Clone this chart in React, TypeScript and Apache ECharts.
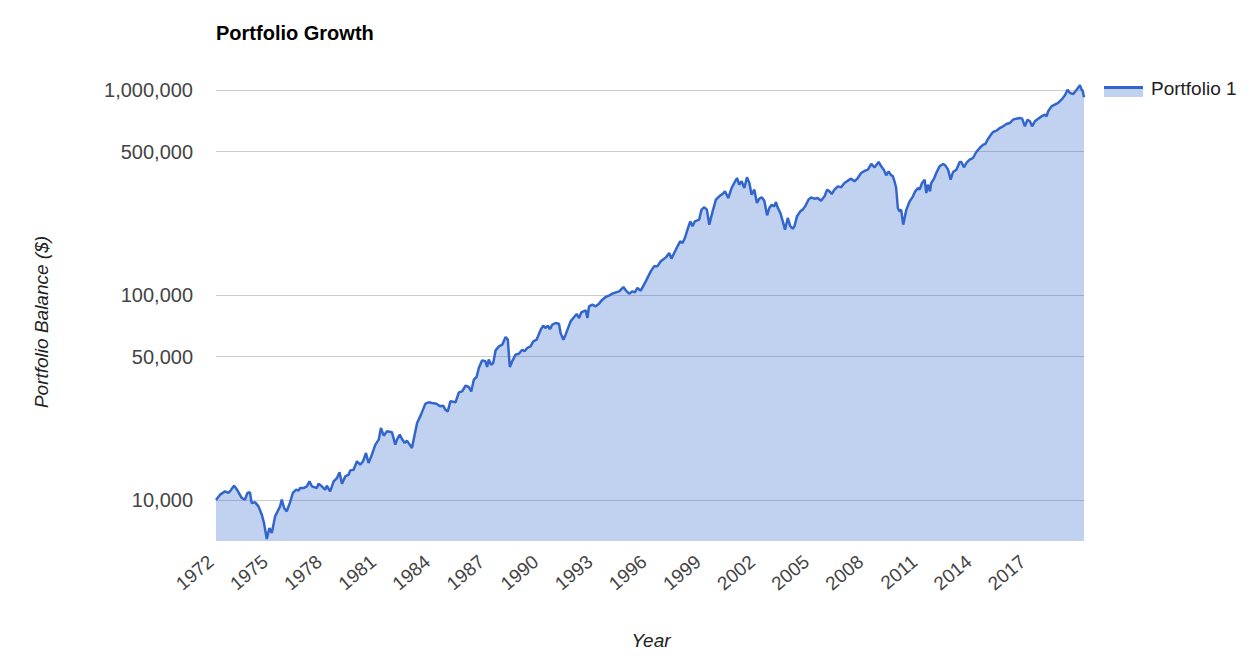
import React, { useEffect, useRef } from "react";
import * as echarts from "echarts";

// [year, balance in $], 1972–1994
const growth1972to1994: [number, number][] = [
  [1972.0, 10000], [1972.22, 10620], [1972.49, 11020], [1972.67, 10820], [1972.8, 11150],
  [1972.98, 11750], [1973.16, 11150], [1973.39, 10230], [1973.57, 10040], [1973.7, 10820],
  [1973.84, 10900], [1973.93, 9670], [1974.12, 9740], [1974.3, 9310], [1974.48, 8480],
  [1974.6, 7720], [1974.75, 6450], [1974.89, 7300], [1975.02, 6900], [1975.2, 8320],
  [1975.47, 9310], [1975.56, 10040], [1975.69, 9140], [1975.83, 8800], [1976.01, 9740],
  [1976.16, 10820], [1976.34, 11230], [1976.47, 11100], [1976.56, 11440], [1976.74, 11440],
  [1976.92, 11660], [1977.06, 12330], [1977.19, 11660], [1977.46, 11440], [1977.55, 12010],
  [1977.73, 11660], [1977.91, 11230], [1978.0, 11750], [1978.18, 11020], [1978.37, 12330],
  [1978.55, 12800], [1978.69, 13650], [1978.82, 12010], [1979.0, 13040], [1979.18, 13290],
  [1979.27, 13950], [1979.45, 14060], [1979.63, 15440], [1979.81, 14870], [1979.96, 15440],
  [1980.12, 16960], [1980.26, 15150], [1980.44, 16640], [1980.63, 18620], [1980.81, 19690],
  [1980.93, 22450], [1981.08, 20600], [1981.26, 21630], [1981.53, 21380], [1981.71, 18620],
  [1981.8, 19690], [1981.95, 20830], [1982.07, 19840], [1982.22, 18970], [1982.34, 19470],
  [1982.49, 18620], [1982.61, 17930], [1982.74, 20450], [1982.89, 23750], [1983.1, 26090],
  [1983.34, 29510], [1983.52, 29950], [1983.7, 29730], [1983.94, 29510], [1984.12, 28640],
  [1984.3, 28850], [1984.42, 27580], [1984.55, 27060], [1984.69, 30290], [1984.97, 29950],
  [1985.15, 33510], [1985.33, 33880], [1985.51, 36120], [1985.69, 35580], [1985.82, 33880],
  [1985.96, 38640], [1986.11, 39810], [1986.23, 44050], [1986.41, 48010], [1986.59, 47480],
  [1986.68, 44550], [1986.77, 48380], [1986.9, 45710], [1987.01, 46590], [1987.14, 53700],
  [1987.32, 56180], [1987.5, 57240], [1987.68, 62400], [1987.8, 60550], [1987.91, 44550],
  [1988.04, 47480], [1988.22, 51170], [1988.4, 51730], [1988.58, 54110], [1988.71, 53110],
  [1988.85, 55140], [1989.03, 56180], [1989.18, 59430], [1989.36, 60550], [1989.58, 67740],
  [1989.72, 70860], [1989.85, 69020], [1989.97, 70860], [1990.08, 68240], [1990.21, 71660],
  [1990.39, 73010], [1990.57, 72470], [1990.66, 65250], [1990.81, 60550], [1990.93, 64040],
  [1991.2, 74380], [1991.39, 78100], [1991.53, 80780], [1991.66, 77220], [1991.78, 82300],
  [1992.02, 84180], [1992.11, 77220], [1992.2, 88050], [1992.38, 89710], [1992.56, 88050],
  [1992.74, 90730], [1992.92, 94890], [1993.1, 97770], [1993.28, 99250], [1993.46, 101500],
  [1993.65, 103000], [1993.83, 104200], [1994.06, 109400], [1994.19, 105400], [1994.37, 101500],
  [1994.55, 104200], [1994.68, 103000], [1994.82, 108200],
];

// [year, balance in $], 1995–2018
const growth1995to2018: [number, number][] = [
  [1995.0, 105000], [1995.27, 116600], [1995.54, 130400], [1995.72, 138000], [1995.9, 138000],
  [1996.08, 146000], [1996.36, 152600], [1996.54, 160300], [1996.66, 150400], [1996.81, 160300],
  [1996.99, 172800], [1997.13, 182700], [1997.26, 179300], [1997.39, 189700], [1997.53, 208300],
  [1997.68, 228800], [1997.8, 216300], [1997.93, 228800], [1998.16, 233100], [1998.29, 260900],
  [1998.44, 267700], [1998.58, 260900], [1998.71, 220300], [1998.89, 255900], [1999.07, 291700],
  [1999.25, 302900], [1999.43, 310900], [1999.56, 320300], [1999.74, 297300], [1999.92, 332700],
  [2000.06, 351800], [2000.21, 372100], [2000.33, 345300], [2000.46, 358500], [2000.61, 332700],
  [2000.75, 375000], [2000.88, 351800], [2001.0, 308600], [2001.15, 326400], [2001.29, 281100],
  [2001.42, 295100], [2001.55, 299500], [2001.69, 288500], [2001.84, 244700], [2001.96, 265700],
  [2002.09, 275800], [2002.23, 270600], [2002.32, 284200], [2002.41, 267700], [2002.56, 251200],
  [2002.69, 228800], [2002.81, 208300], [2002.96, 237500], [2003.1, 216300], [2003.23, 210600],
  [2003.32, 216300], [2003.46, 242000], [2003.64, 255900], [2003.77, 260900], [2003.9, 270600],
  [2004.08, 291700], [2004.22, 299500], [2004.4, 295100], [2004.58, 297300], [2004.76, 288500],
  [2004.95, 302900], [2005.09, 326400], [2005.22, 320300], [2005.34, 310900], [2005.49, 326400],
  [2005.67, 338800], [2005.85, 335100], [2006.03, 351800], [2006.21, 361200], [2006.39, 369400],
  [2006.57, 358500], [2006.75, 372100], [2006.93, 393700], [2007.15, 404200], [2007.3, 408700],
  [2007.48, 435500], [2007.66, 419600], [2007.88, 445500], [2008.02, 424300], [2008.16, 408700],
  [2008.29, 383500], [2008.42, 401100], [2008.53, 386400], [2008.65, 379300], [2008.74, 358500],
  [2008.83, 332700], [2008.92, 265700], [2009.01, 255900], [2009.1, 260900], [2009.21, 220300],
  [2009.38, 260900], [2009.56, 286400], [2009.74, 302900], [2009.86, 320300], [2010.01, 332700],
  [2010.1, 326400], [2010.23, 351800], [2010.37, 365200], [2010.46, 314500], [2010.55, 345300],
  [2010.66, 320300], [2010.73, 351800], [2010.88, 369400], [2011.0, 393700], [2011.18, 424300],
  [2011.37, 435500], [2011.49, 429100], [2011.64, 408700], [2011.78, 365200], [2011.91, 398100],
  [2012.09, 408700], [2012.27, 445500], [2012.36, 445500], [2012.5, 419600], [2012.63, 440500],
  [2012.81, 457400], [2012.99, 465900], [2013.17, 498400], [2013.35, 521300], [2013.54, 541100],
  [2013.66, 545200], [2013.81, 578900], [2013.99, 610100], [2014.08, 624000], [2014.26, 633300],
  [2014.44, 652500], [2014.62, 665000], [2014.8, 682400], [2014.98, 690200], [2015.16, 716600],
  [2015.34, 724700], [2015.52, 730100], [2015.65, 724700], [2015.8, 665000], [2015.94, 716600],
  [2016.07, 703400], [2016.19, 665000], [2016.34, 703400], [2016.52, 724700], [2016.7, 743800],
  [2016.88, 758400], [2016.97, 743800], [2017.06, 787300], [2017.24, 832500], [2017.42, 848300],
  [2017.6, 864300], [2017.78, 897100], [2017.97, 941900], [2018.11, 1003700], [2018.24, 966900],
  [2018.42, 956100], [2018.6, 1003700], [2018.78, 1054000], [2018.87, 1003700], [2018.93, 990000],
  [2019.0, 921000],
];

const yTickValues = [10000, 50000, 100000, 500000, 1000000];
const xLabelYears = [1972, 1975, 1978, 1981, 1984, 1987, 1990, 1993, 1996, 1999, 2002, 2005, 2008, 2011, 2014, 2017];
const seriesName = "Portfolio 1";
const chartTitle = "Portfolio Growth";
const yAxisTitle = "Portfolio Balance ($)";
const xAxisTitle = "Year";

const FONT = '"Liberation Sans", Arial, sans-serif';

export default function App() {
  const ref = useRef<HTMLDivElement>(null);

  useEffect(() => {
    if (!ref.current) return;
    const chart = echarts.init(ref.current, null, { renderer: "svg" });
    const points = [...growth1972to1994, ...growth1995to2018].map(([t, v]) => [t, Math.log10(v)]);
    const logTicks = yTickValues.map((v) => Math.log10(v));
    const firstLabelYear = xLabelYears[0];
    const labelStep = xLabelYears[1] - xLabelYears[0];
    const lastLabelYear = xLabelYears[xLabelYears.length - 1];

    chart.setOption({
      animation: false,
      title: {
        text: chartTitle,
        left: 216,
        top: 23,
        padding: 0,
        textStyle: { fontFamily: FONT, fontSize: 20, fontWeight: "bold", color: "#000" },
      },
      grid: [
        { left: 216, right: 172, top: 69.5, bottom: 130 },
        { left: 211, width: 830, top: 69.5, bottom: 130 },
      ],
      xAxis: [
        {
          type: "value",
          gridIndex: 0,
          min: xLabelYears[0],
          max: "dataMax",
          show: false,
        },
        {
          type: "value",
          gridIndex: 1,
          min: 0,
          max: 46,
          interval: labelStep,
          axisLine: { show: false },
          axisTick: { show: false },
          splitLine: { show: false },
          axisLabel: {
            rotate: 40,
            margin: 18,
            fontSize: 19,
            fontFamily: FONT,
            color: "#444",
            formatter: (v: number) => {
              const y = firstLabelYear + v;
              return y <= lastLabelYear ? String(y) : "";
            },
          },
        },
      ],
      yAxis: [
        {
          type: "value",
          gridIndex: 0,
          min: 3.8,
          max: 6.1,
          axisLine: { show: false },
          axisTick: { show: false, customValues: logTicks },
          axisLabel: {
            customValues: logTicks,
            margin: 23,
            fontSize: 20,
            fontFamily: FONT,
            color: "#444",
            formatter: (v: number) => Math.round(Math.pow(10, v)).toLocaleString("en-US"),
          },
          splitLine: { show: true, lineStyle: { color: "#cccccc", width: 1 } },
        },
        { type: "value", gridIndex: 1, min: 0, max: 1, show: false },
      ],
      series: [
        {
          type: "line",
          name: seriesName,
          xAxisIndex: 0,
          yAxisIndex: 0,
          data: points,
          symbol: "none",
          showSymbol: false,
          lineStyle: { color: "#3366cc", width: 2.5 },
          itemStyle: { color: "#3366cc" },
          areaStyle: { color: "#3366cc", opacity: 0.3, origin: "start" },
        },
      ],
      graphic: [
        {
          type: "text",
          x: 41,
          y: 322,
          rotation: Math.PI / 2,
          style: {
            text: yAxisTitle,
            font: `italic 19px ${FONT}`,
            fill: "#222",
            align: "center",
            verticalAlign: "middle",
          },
        },
        {
          type: "text",
          x: 651,
          y: 640,
          style: {
            text: xAxisTitle,
            font: `italic 19px ${FONT}`,
            fill: "#222",
            align: "center",
            verticalAlign: "middle",
          },
        },
        {
          type: "rect",
          shape: { x: 1104, y: 88.5, width: 39, height: 8.5 },
          style: { fill: "rgba(51,102,204,0.3)" },
        },
        {
          type: "line",
          shape: { x1: 1104, y1: 87.5, x2: 1143, y2: 87.5 },
          style: { stroke: "#3366cc", lineWidth: 3 },
        },
        {
          type: "text",
          x: 1151,
          y: 88,
          style: {
            text: seriesName,
            font: `19px ${FONT}`,
            fill: "#222",
            align: "left",
            verticalAlign: "middle",
          },
        },
      ],
    });
    return () => chart.dispose();
  }, []);

  return (
    <div
      ref={ref}
      style={{ position: "absolute", left: 0, top: 0, width: 1256, height: 671 }}
    />
  );
}
